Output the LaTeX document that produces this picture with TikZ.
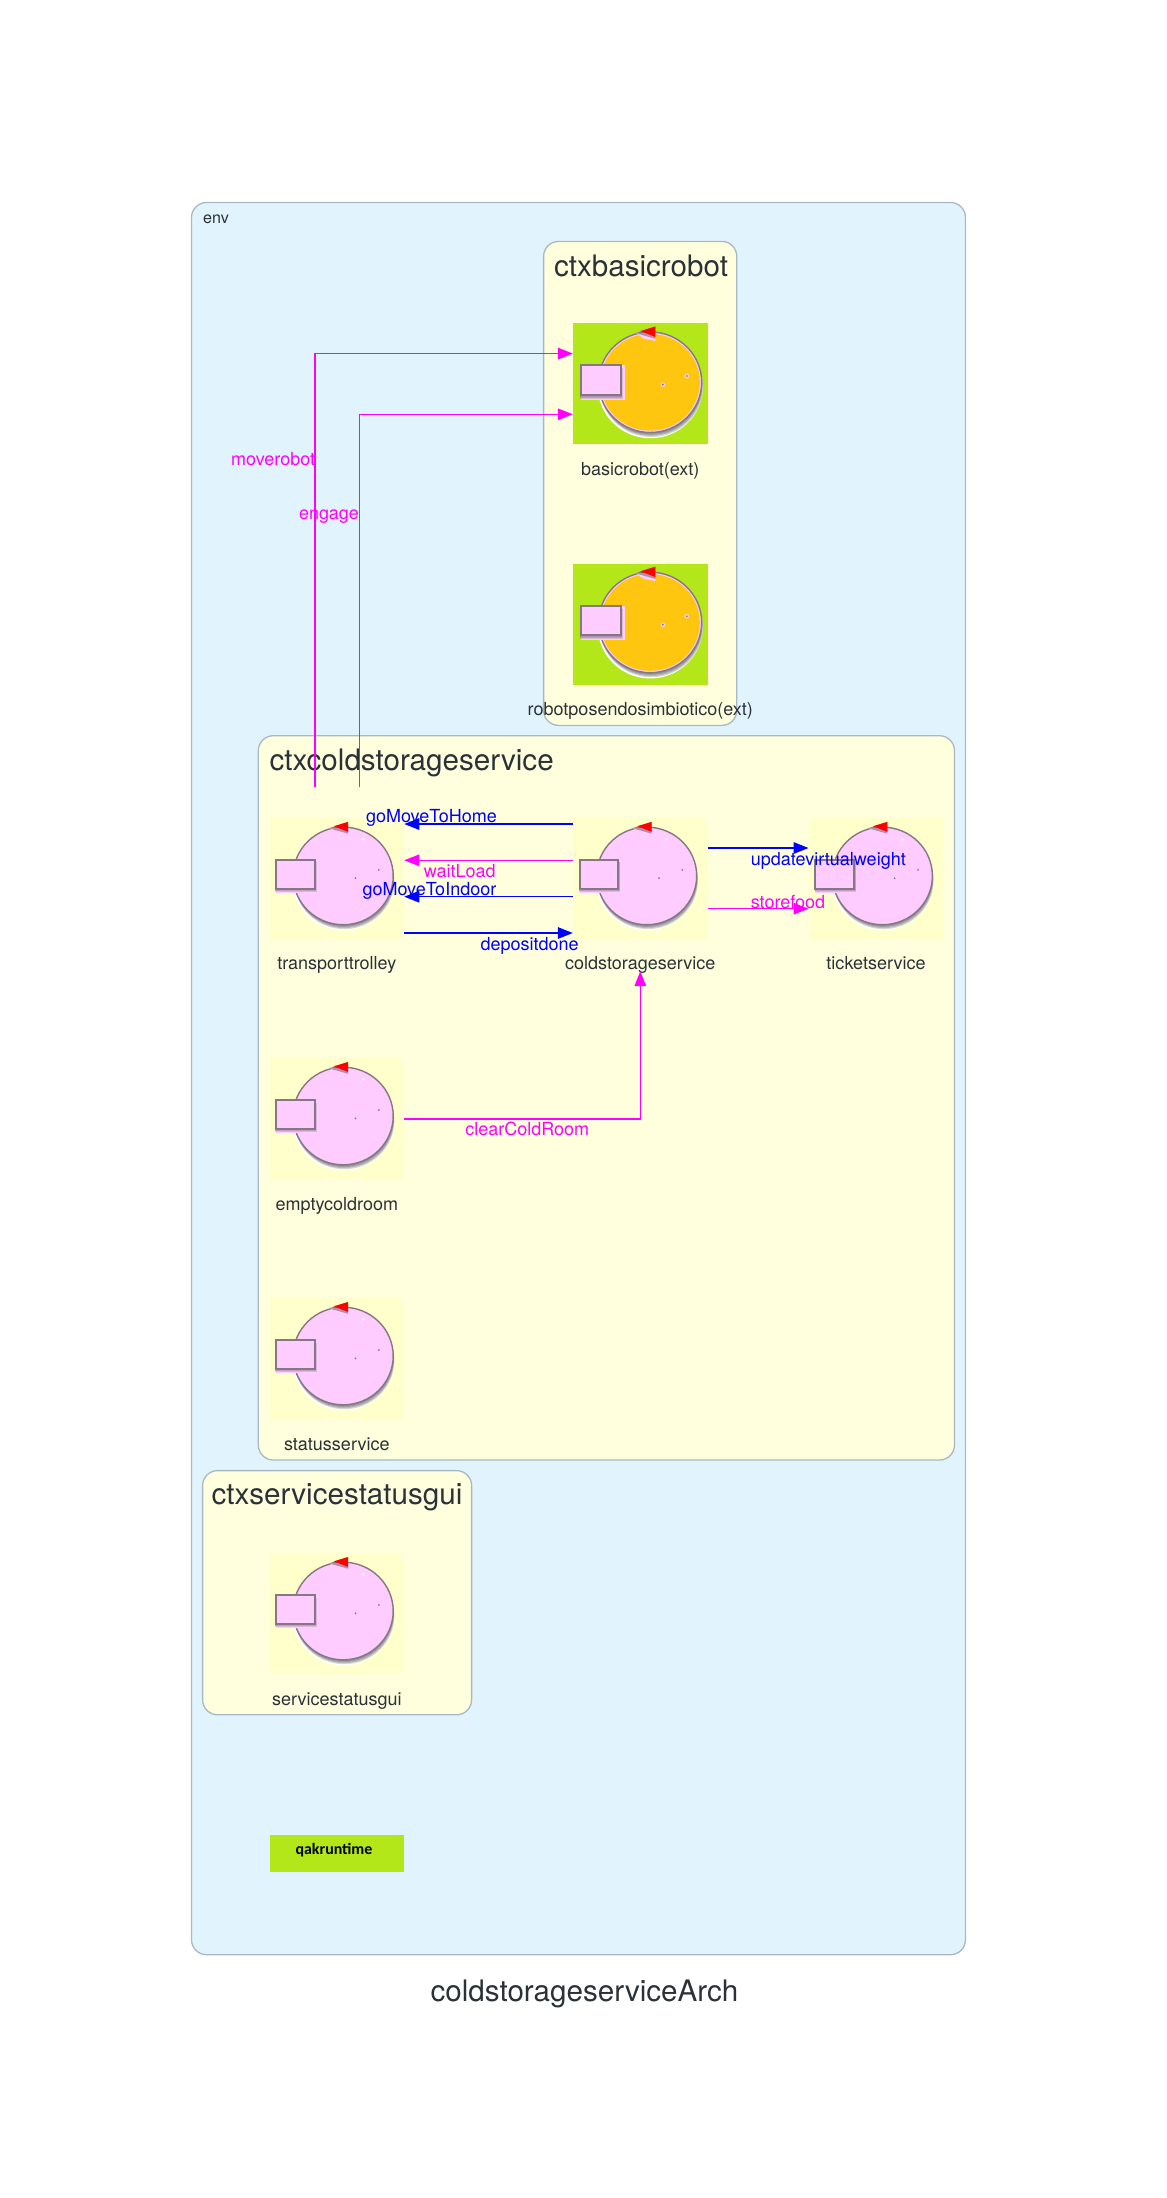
\documentclass[tikz,border=0pt]{standalone}
\usepackage{fontspec}
\setmainfont{TeX Gyre Heros}
\newfontfamily\qakfont{Carlito}
\usetikzlibrary{arrows.meta,positioning}
\definecolor{envbg}{HTML}{E1F4FD}
\definecolor{ctxbg}{HTML}{FFFFDD}
\definecolor{edgegray}{HTML}{A8B8C6}
\definecolor{inkc}{HTML}{2A3238}
\definecolor{paleyellow}{HTML}{FFFFCC}
\definecolor{limeg}{HTML}{B3E71A}
\definecolor{pinkb}{HTML}{FFCCFF}
\definecolor{orangeb}{HTML}{FFC60F}
\definecolor{rimc}{HTML}{857885}
\definecolor{shadc}{HTML}{4A4A4A}
\definecolor{msgm}{RGB}{255,0,255}
\definecolor{msgb}{RGB}{0,0,255}
\tikzset{
 envbox/.style={draw=edgegray,line width=1.3pt,rounded corners=15pt,fill=envbg},
 ctxbox/.style={draw=edgegray,line width=1.3pt,rounded corners=15pt,fill=ctxbg},
 actorbox/.style={minimum width=134.5pt,minimum height=121pt,inner sep=0pt},
 lbl/.style={font=\fontsize{18}{20}\selectfont,text=inkc,inner sep=0pt,text height=12.8pt,text depth=3.6pt},
 ctxtitle/.style={font=\fontsize{29.6}{32}\selectfont,text=inkc,inner sep=0pt,text height=21pt,text depth=5.9pt},
 msglbl/.style={font=\fontsize{18}{20}\selectfont,inner sep=0pt,text height=12.8pt,text depth=3.6pt},
 msg/.style={line width=1.5pt,-{Triangle[length=15pt,width=11.5pt]}},
 plainrobot/.style={dotcol/.style={fill=white}},
 extrobot/.style={shift={(3.3,1.3)},scale=1.03,dotcol/.style={fill=orangeb}},
}
% actor picture: name, x, y, background, core colour, inner style, label
\newcommand{\actor}[7]{%
\node[actorbox,fill=#4] (#1) at (#2,#3) {};
\node[lbl,below=17.5pt of #1] (#1lbl) {#7};
\begin{scope}[shift={(#1.center)},#6]
\fill[white] (6.6,1.6) ellipse (51 and 50);
\foreach \s in {1,2,3,4}{\fill[shadc,opacity=.22] (6.4+.3*\s,-2.8+1.1*\s) ellipse (50 and 48.8);}
\draw[rimc,line width=1.4pt,fill=pinkb] (6.4,-2.8) ellipse (50 and 48.8);
\fill[#5] (6.4,-2.8) ellipse (48.2 and 47);
\fill[pinkb] (-8,-51) -- (11.4,-51) -- (11.4,-43) -- (0,-45) -- cycle;
\fill[pinkb] (-60.6,-19.2) rectangle (-18,14);
\fill[shadc,opacity=.45] (11.4,-57) -- (11.4,-45) -- (-8,-50.5) -- cycle;
\fill[red] (11.4,-56.8) -- (11.4,-46.8) -- (-3,-52.5) -- cycle;
\fill[dotcol] (26.3,-39.5) circle (1.6);
\fill[pinkb] (18.7,-0.5) circle (2.2);
\fill[pinkb] (42,-8.8) circle (2.2);
\fill[rimc] (18.7,-0.5) circle (1);
\fill[rimc] (42,-8.8) circle (1);
\foreach \s in {1,2,3}{\fill[shadc,opacity=.18] (-61.5,-19+.9*\s) rectangle (-21.5+.5*\s,10+1.1*\s);}
\draw[rimc,line width=2pt,fill=pinkb] (-60.6,-19.2) rectangle (-22,9.8);
\end{scope}}

\begin{document}
\begin{tikzpicture}[x=1pt,y=-1pt]
\useasboundingbox (0,0) rectangle (1167,2198);
% containers
\draw[envbox] (191.5,202.5) rectangle (965.5,1954.7);
\node[lbl,font=\fontsize{16.1}{18}\selectfont,anchor=west] (envlbl) at (203,219) {env};
\draw[ctxbox] (543.6,241.4) rectangle (736.8,725.4);
\node[ctxtitle] (ctxbasicrobot) at (641,269) {ctxbasicrobot};
\draw[ctxbox] (258.3,735.7) rectangle (954.5,1460);
\node[ctxtitle,anchor=west] (ctxcoldstorageservice) at (269.4,763) {ctxcoldstorageservice};
\draw[ctxbox] (202.6,1470.6) rectangle (471.6,1714.8);
\node[ctxtitle] (ctxservicestatusgui) at (337,1497) {ctxservicestatusgui};
% actors
\actor{basicrobot}{640.3}{383.8}{limeg}{orangeb}{extrobot}{basicrobot(ext)}
\actor{robotposendosimbiotico}{640.3}{624}{limeg}{orangeb}{extrobot}{robotposendosimbiotico(ext)}
\actor{transporttrolley}{336.8}{878.7}{paleyellow}{pinkb}{plainrobot}{transporttrolley}
\actor{coldstorageservice}{640.3}{878.7}{paleyellow}{pinkb}{plainrobot}{coldstorageservice}
\actor{ticketservice}{876}{878.7}{paleyellow}{pinkb}{plainrobot}{ticketservice}
\actor{emptycoldroom}{336.8}{1118.8}{paleyellow}{pinkb}{plainrobot}{emptycoldroom}
\actor{statusservice}{336.8}{1358.8}{paleyellow}{pinkb}{plainrobot}{statusservice}
\actor{servicestatusgui}{336.8}{1613.8}{paleyellow}{pinkb}{plainrobot}{servicestatusgui}
\node[minimum width=134.5pt,minimum height=36.7pt,inner sep=0pt,fill=limeg] (qakruntime) at (336.8,1853.3) {};
\node[inner sep=0pt,font=\qakfont\bfseries\fontsize{15.9}{18}\selectfont] (qakruntimelbl) at ([shift={(-2.8,-3)}]qakruntime.center) {qakruntime};
\node[ctxtitle] (archtitle) at (584.5,1994) {coldstorageserviceArch};
% messages
\coordinate (moverobotstart) at (315.2,787.3);
\coordinate (engagestart) at (359.3,787.3);
\draw[msg,msgm] (moverobotstart) |- ([yshift=30.2pt]basicrobot.west);
\draw[msg,msgm] (engagestart) |- ([yshift=-30.5pt]basicrobot.west);
\draw[msg,msgb] ([yshift=54.7pt]coldstorageservice.west) -- ([yshift=54.7pt]transporttrolley.east);
\draw[msg,msgm] ([yshift=18.4pt]coldstorageservice.west) -- ([yshift=18.4pt]transporttrolley.east);
\draw[msg,msgb] ([yshift=-18pt]coldstorageservice.west) -- ([yshift=-18pt]transporttrolley.east);
\draw[msg,msgb] ([yshift=-54.3pt]transporttrolley.east) -- ([yshift=-54.3pt]coldstorageservice.west);
\draw[msg,msgb] ([yshift=30.7pt]coldstorageservice.east) -- ([yshift=30.7pt]ticketservice.west);
\draw[msg,msgm] ([yshift=-30pt]coldstorageservice.east) -- ([yshift=-30pt]ticketservice.west);
\draw[msg,msgm] (emptycoldroom.east) -| ([yshift=2.5pt]coldstorageservicelbl.south);
% message labels
\node[msglbl,msgm] (moverobotlbl) at (273.2,461) {moverobot};
\node[msglbl,msgm] (engagelbl) at (329,514.5) {engage};
\node[msglbl,msgb] (goMoveToHomelbl) at (431.4,818.2) {goMoveToHome};
\node[msglbl,msgm] (waitLoadlbl) at (459.8,873.2) {waitLoad};
\node[msglbl,msgb] (goMoveToIndoorlbl) at (429.4,891.2) {goMoveToIndoor};
\node[msglbl,msgb] (depositdonelbl) at (529.6,945.8) {depositdone};
\node[msglbl,msgb] (updatevirtualweightlbl) at (828.3,860.8) {updatevirtualweight};
\node[msglbl,msgm] (storefoodlbl) at (788,904.2) {storefood};
\node[msglbl,msgm] (clearColdRoomlbl) at (527.3,1130.8) {clearColdRoom};
\end{tikzpicture}
\end{document}
